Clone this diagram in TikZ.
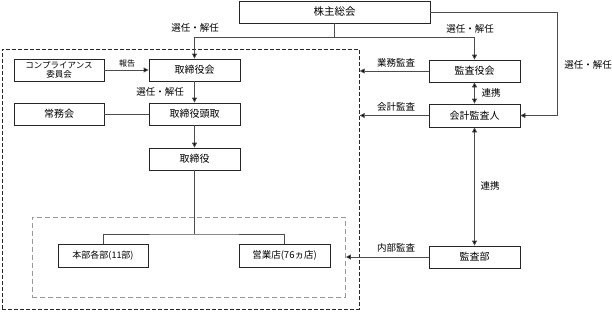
\documentclass[tikz,border=0pt]{standalone}
\usepackage{fontspec}
\newfontfamily\jp{Noto Sans CJK JP}
\usetikzlibrary{arrows.meta}
\tikzset{
  box/.style={draw=black!85, line width=0.8pt, fill=white, minimum width=91pt, minimum height=22pt, inner sep=0pt, font=\jp\fontsize{10}{12}\selectfont},
  lbl/.style={font=\jp\fontsize{9.5}{11}\selectfont, inner sep=0pt},
  conn/.style={draw=black!70, line width=0.8pt},
  arr/.style={conn, -{Triangle[length=5pt,width=5pt,fill=black]}},
  darr/.style={conn, {Triangle[length=5pt,width=5pt,fill=black]}-{Triangle[length=5pt,width=5pt,fill=black]}},
  outerbox/.style={draw=black!85, line width=0.7pt, dash pattern=on 4pt off 2pt, inner sep=0pt},
  innerbox/.style={draw=black!40, line width=0.9pt, dash pattern=on 5pt off 3pt, inner sep=0pt}
}
\begin{document}
\begin{tikzpicture}[x=1pt,y=-1pt]
\useasboundingbox (0,0) rectangle (612,311);
% dashed regions
\node[outerbox, minimum width=357pt, minimum height=260pt, anchor=north west] (outer) at (2,49) {};
\node[innerbox, minimum width=313pt, minimum height=80pt, anchor=north west] (inner) at (32,217) {};
% boxes
\node[box, minimum width=191pt, font=\jp\fontsize{10.5}{12}\selectfont] (sh) at (334.5,12) {株主総会};
\node[box, minimum width=90pt, align=center, font=\jp\fontsize{8.5}{9.5}\selectfont] (comp) at (59,70) {コンプライアンス\\委員会};
\node[box] (bod) at (194.5,70) {取締役会};
\node[box, minimum width=90pt] (jomu) at (59,114) {常務会};
\node[box] (pres) at (194.5,114) {取締役頭取};
\node[box] (dir) at (194.5,159) {取締役};
\node[box, minimum width=90pt, minimum height=23pt, font=\jp\fontsize{9}{11}\selectfont] (hq) at (103,255.5) {本部各部(11部)};
\node[box, minimum height=23pt, font=\jp\fontsize{9.5}{11}\selectfont] (br) at (284.5,255.5) {営業店(76ヵ店)};
\node[box] (kansa) at (474.5,71) {監査役会};
\node[box, minimum height=23pt] (kaikei) at (474.5,115.5) {会計監査人};
\node[box] (audit) at (474.5,257) {監査部};
% coordinates
\coordinate (j) at (334.5,37);
\coordinate (rc) at (557,115.5);
\coordinate (t) at (194.5,234);
% connectors
\draw[conn] (sh.south) -- (j);
\draw[arr] (j) -| (bod.north);
\draw[arr] (j) -| (kansa.north);
\draw[arr] (sh.east) -| (rc) -- (kaikei.east);
\draw[arr] (comp.east) -- (bod.west);
\draw[arr] (bod.south) -- (pres.north);
\draw[conn] (jomu.east) -- (pres.west);
\draw[arr] (pres.south) -- (dir.north);
\draw[conn] (dir.south) -- (t);
\draw[conn] (hq.north) |- (t) -| (br.north);
\draw[arr] (kansa.west) -- (kansa.west -| outer.east);
\draw[arr] (kaikei.west) -- (kaikei.west -| outer.east);
\draw[arr] (audit.west) -- (audit.west -| inner.east);
\draw[darr] (kansa.south) -- (kaikei.north);
\draw[darr] (kaikei.south) -- (audit.north);
% labels
\node[lbl] (l1) at (195,28) {選任・解任};
\node[lbl] (l2) at (470,29) {選任・解任};
\node[lbl] (l3) at (588,65) {選任・解任};
\node[lbl] (l4) at (160,92) {選任・解任};
\node[lbl, font=\jp\fontsize{8}{9}\selectfont] (l5) at (127,63) {報告};
\node[lbl] (l6) at (396,63) {業務監査};
\node[lbl] (l7) at (396,107) {会計監査};
\node[lbl] (l8) at (396,248) {内部監査};
\node[lbl] (l9) at (491,93) {連携};
\node[lbl] (l10) at (490,186) {連携};
\end{tikzpicture}
\end{document}
